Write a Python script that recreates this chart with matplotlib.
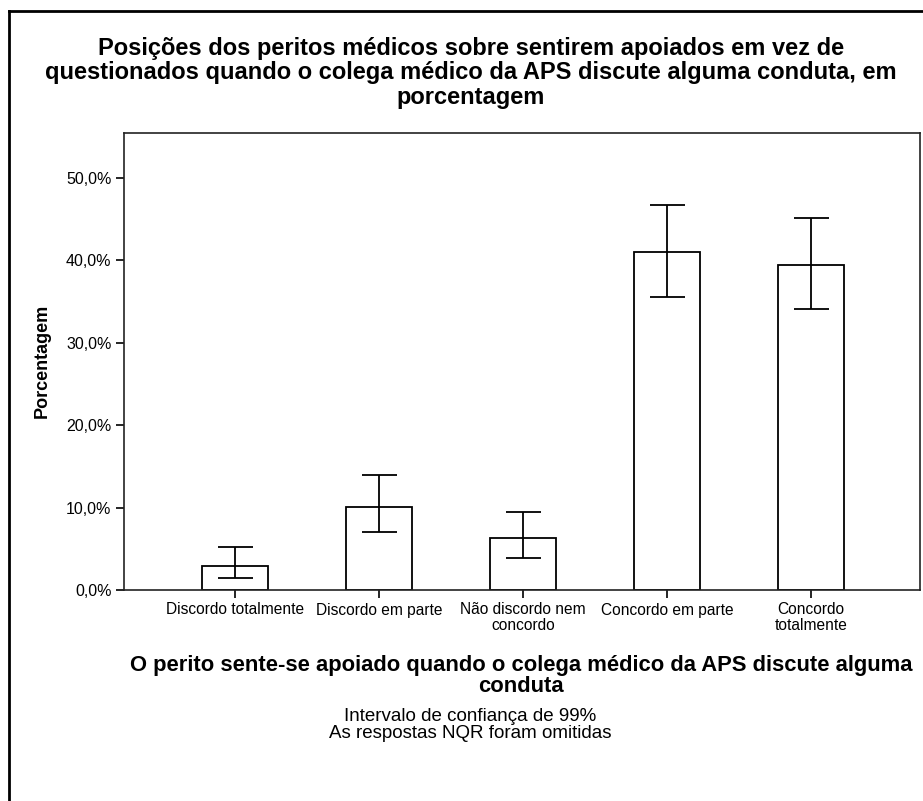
import matplotlib
matplotlib.use("Agg")
import matplotlib.pyplot as plt
from matplotlib.lines import Line2D
import numpy as np

plt.rcParams['font.family'] = ['Liberation Sans', 'DejaVu Sans']

categories = ["Discordo totalmente", "Discordo em parte", "Não discordo nem\nconcordo",
              "Concordo em parte", "Concordo\ntotalmente"]
percent = [2.95, 10.1, 6.27, 41.06, 39.5]
ci_low = [1.42, 7.08, 3.84, 35.6, 34.1]
ci_high = [5.26, 13.96, 9.43, 46.7, 45.1]
yticks = [0, 10, 20, 30, 40, 50]
ytick_labels = ["0,0%", "10,0%", "20,0%", "30,0%", "40,0%", "50,0%"]

W, H = 923, 801
fig = plt.figure(figsize=(W / 100, H / 100), dpi=100)
fig.patch.set_facecolor("white")

left, right, top, bottom = 124, 920, 133, 590
ax = fig.add_axes([left / W, 1 - bottom / H, (right - left) / W, (bottom - top) / H])

x = np.arange(len(categories))
ax.bar(x, percent, width=0.456, color="white", edgecolor="black", linewidth=1.3, zorder=2)
yerr = [np.array(percent) - np.array(ci_low), np.array(ci_high) - np.array(percent)]
ax.errorbar(x, percent, yerr=yerr, fmt="none", ecolor="black", elinewidth=1.3,
            capsize=12.6, capthick=1.3, zorder=3)

ax.set_xlim(-0.771, 4.757)
ax.set_ylim(0, 55.46)
ax.set_xticks(x)
ax.set_xticklabels(categories, fontsize=11.2, linespacing=1.05)
ax.set_yticks(yticks)
ax.set_yticklabels(ytick_labels, fontsize=11.5)
ax.tick_params(axis="both", direction="out", length=6, width=1.2, color="black", pad=3)
for s in ax.spines.values():
    s.set_color("#222222")
    s.set_linewidth(1.2)

# Outer chart frame (left and top edges)
fig.add_artist(Line2D([8.5 / W, 8.5 / W], [0, 1 - 11 / H], transform=fig.transFigure,
                      color="black", linewidth=2))
fig.add_artist(Line2D([8.5 / W, 1], [1 - 11 / H, 1 - 11 / H], transform=fig.transFigure,
                      color="black", linewidth=2))

fig.text(471 / W, 1 - 73 / H,
         "Posições dos peritos médicos sobre sentirem apoiados em vez de\n"
         "questionados quando o colega médico da APS discute alguma conduta, em\n"
         "porcentagem",
         ha="center", va="center", fontsize=17, fontweight="bold", linespacing=1.1)

fig.text(521 / W, 1 - 676 / H,
         "O perito sente-se apoiado quando o colega médico da APS discute alguma\nconduta",
         ha="center", va="center", fontsize=15.8, fontweight="bold", linespacing=1.0)

fig.text(42 / W, 1 - 361 / H, "Porcentagem", rotation=90, ha="center", va="center",
         fontsize=13, fontweight="bold")

fig.text(470 / W, 1 - 725 / H, "Intervalo de confiança de 99%\nAs respostas NQR foram omitidas",
         ha="center", va="center", fontsize=13.5, linespacing=1.0)

fig.savefig("out.png", dpi=100, facecolor="white")
